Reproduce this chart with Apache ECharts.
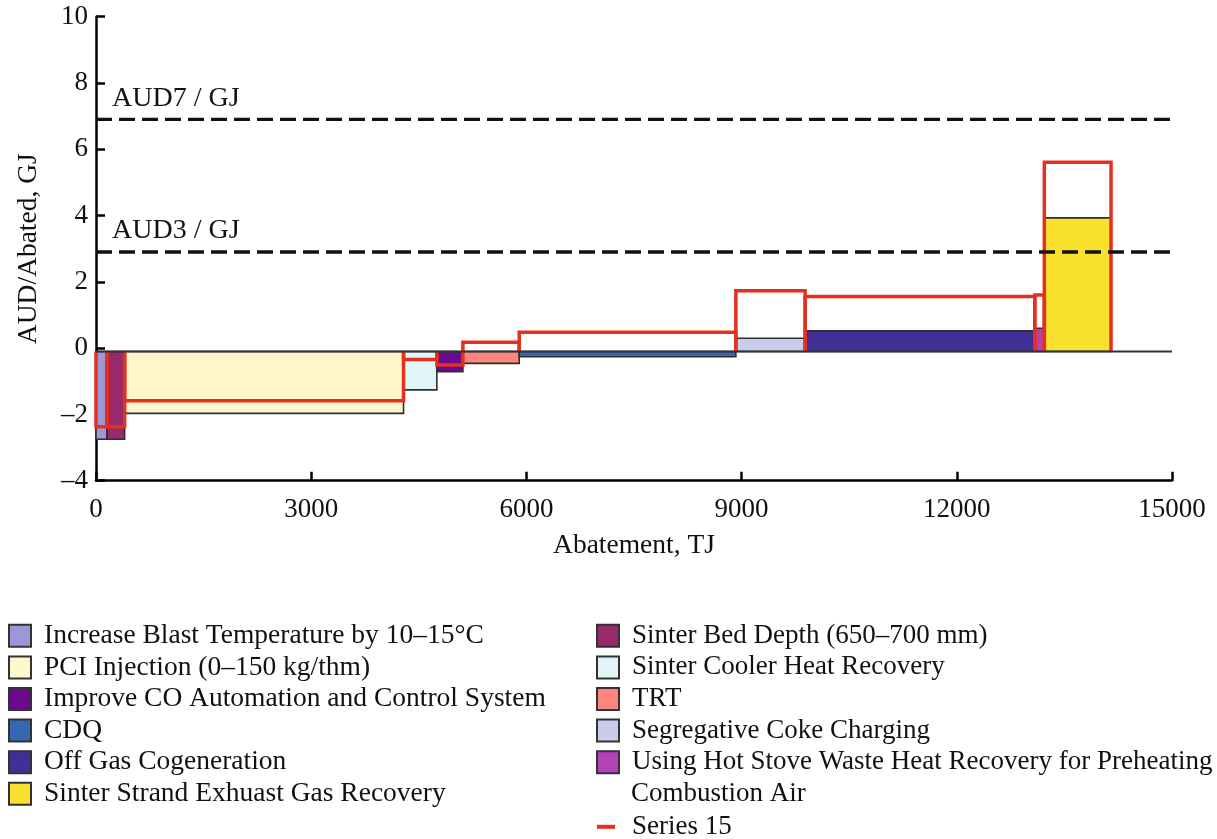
<!DOCTYPE html>
<html>
<head>
<meta charset="utf-8">
<script src="https://cdn.jsdelivr.net/npm/echarts@6/dist/echarts.min.js"></script>
<style>
html,body{margin:0;padding:0;background:#fff;}
#chart{width:1217px;height:839px;}
</style>
</head>
<body>
<div id="chart"></div>
<script>
// ---- data ----
const measures = [
  'Increase Blast Temperature by 10–15°C',
  'Sinter Bed Depth (650–700 mm)',
  'PCI Injection (0–150 kg/thm)',
  'Sinter Cooler Heat Recovery',
  'Improve CO Automation and Control System',
  'TRT',
  'CDQ',
  'Segregative Coke Charging',
  'Off Gas Cogeneration',
  'Using Hot Stove Waste Heat Recovery for Preheating Combustion Air',
  'Sinter Strand Exhuast Gas Recovery'
];
const abatementTJ = [153, 246, 3888, 465, 363, 785, 3020, 966, 3201, 133, 930];
const costPerGJ = [-2.75, -2.75, -1.97, -1.26, -0.71, -0.46, -0.26, 0.30, 0.52, 0.60, 3.93];
const series15Name = 'Series 15';
const series15Cost = [-2.37, -2.37, -1.59, -0.34, -0.51, 0.18, 0.48, 1.73, 1.56, 1.60, 5.61];
const baselineValue = -0.1;
const thresholdValues = [6.9, 2.9];
const thresholdLabels = ['AUD7 / GJ', 'AUD3 / GJ'];
const xTicks = [0, 3000, 6000, 9000, 12000, 15000];
const yTicks = [-4, -2, 0, 2, 4, 6, 8, 10];

// ---- styling ----
const colors = ['#9c98d6', '#962a6c', '#fff6cc', '#e0f5f7', '#6b0a8c', '#ff857f',
                '#3567b2', '#cbcbee', '#412f98', '#b342b5', '#f9e12d'];
const redColor = '#e4301f';
const FONT = '"Liberation Serif", "DejaVu Serif", serif';
const leftLegendOrder = [0, 2, 4, 6, 8, 10];
const rightLegendOrder = [1, 3, 5, 7, 9];

// cumulative x positions
const starts = [], ends = [];
let acc = 0;
abatementTJ.forEach(w => { starts.push(acc); acc += w; ends.push(acc); });

const series = measures.map((name, i) => ({
  name: name,
  type: 'custom',
  z: 2,
  encode: { x: [0, 1], y: 2 },
  data: [[starts[i], ends[i], costPerGJ[i]]],
  itemStyle: { color: colors[i] },
  renderItem: function (params, api) {
    const p0 = api.coord([api.value(0), baselineValue]);
    const p1 = api.coord([api.value(1), api.value(2)]);
    return {
      type: 'rect',
      shape: { x: p0[0], y: Math.min(p0[1], p1[1]), width: p1[0] - p0[0], height: Math.abs(p1[1] - p0[1]) },
      style: { fill: colors[i], stroke: '#2e2e2e', lineWidth: 1.6 }
    };
  }
}));

// Series 15 outline
series.push({
  name: series15Name,
  type: 'custom',
  z: 3,
  encode: { x: [0, 1], y: 2 },
  itemStyle: { color: redColor },
  data: measures.map((m, i) => [starts[i], ends[i], series15Cost[i]]),
  renderItem: function (params, api) {
    const x0 = api.value(0), x1 = api.value(1), v = api.value(2);
    const pts = [[x0, baselineValue], [x0, v], [x1, v], [x1, baselineValue]].map(p => api.coord(p));
    return { type: 'polyline', shape: { points: pts }, style: { fill: null, stroke: redColor, lineWidth: 3.5, lineJoin: 'miter' } };
  }
});

// baseline
series.push({
  name: 'baseline',
  type: 'custom',
  z: 4,
  silent: true,
  data: [[0, 15000, baselineValue]],
  renderItem: function (params, api) {
    const a = api.coord([api.value(0), api.value(2)]);
    const b = api.coord([api.value(1), api.value(2)]);
    return { type: 'line', shape: { x1: a[0], y1: a[1], x2: b[0], y2: b[1] }, style: { stroke: '#333', lineWidth: 2 } };
  }
});

// threshold dashed lines with labels
series.push({
  name: 'thresholds',
  type: 'custom',
  z: 5,
  silent: true,
  data: thresholdValues.map((v, i) => [0, 15000, v, i]),
  renderItem: function (params, api) {
    const a = api.coord([api.value(0), api.value(2)]);
    const b = api.coord([api.value(1), api.value(2)]);
    return {
      type: 'group',
      children: [
        { type: 'line', shape: { x1: a[0], y1: a[1], x2: b[0], y2: b[1] },
          style: { stroke: '#111', lineWidth: 3.3, lineDash: [16, 7] } },
        { type: 'text', x: a[0] + 16, y: a[1] - 21,
          style: { text: thresholdLabels[api.value(3)], font: '28px ' + FONT, fill: '#111', verticalAlign: 'middle', align: 'left' } }
      ]
    };
  }
});

function legendItem(i) {
  return { name: measures[i], icon: 'rect', itemStyle: { color: colors[i], borderColor: '#333', borderWidth: 2 } };
}
const legendTextLeft = { fontFamily: FONT, fontSize: 27.5, color: '#111', lineHeight: 31.6, padding: [0, 0, 0, 8] };
const legendTextRight = { fontFamily: FONT, fontSize: 27, color: '#111', lineHeight: 31.6, padding: [0, 0, 0, 8] };

const option = {
  backgroundColor: '#fff',
  animation: false,
  grid: { left: 96, right: 45, top: 16.7, bottom: 358.3, containLabel: false, outerBoundsMode: 'none' },
  xAxis: {
    type: 'value', min: xTicks[0], max: xTicks[xTicks.length - 1], interval: xTicks[1] - xTicks[0],
    name: 'Abatement, TJ', nameLocation: 'middle', nameGap: 51,
    nameTextStyle: { fontFamily: FONT, fontSize: 27.5, color: '#111' },
    axisLine: { show: true, onZero: false, lineStyle: { color: '#000', width: 2.5 } },
    axisTick: { show: true, inside: true, length: 9, lineStyle: { color: '#000', width: 2.5 } },
    splitLine: { show: false },
    axisLabel: { fontFamily: FONT, fontSize: 27, color: '#111', margin: 16, formatter: v => String(v) }
  },
  yAxis: {
    type: 'value', min: yTicks[0], max: yTicks[yTicks.length - 1], interval: yTicks[1] - yTicks[0],
    name: 'AUD/Abated, GJ', nameLocation: 'middle', nameGap: 53, nameRotate: 90,
    nameTextStyle: { fontFamily: FONT, fontSize: 27.5, color: '#111' },
    axisLine: { show: true, onZero: false, lineStyle: { color: '#000', width: 2.5 } },
    axisTick: { show: true, inside: true, length: 9, lineStyle: { color: '#000', width: 2.5 } },
    splitLine: { show: false },
    axisLabel: { fontFamily: FONT, fontSize: 27, color: '#111', margin: 8,
                 formatter: v => String(v).replace('-', '–') }
  },
  legend: [
    { orient: 'vertical', left: 8, top: 620, padding: 0, itemGap: 0, itemWidth: 22, itemHeight: 22,
      selectedMode: false, textStyle: legendTextLeft, data: leftLegendOrder.map(legendItem) },
    { orient: 'vertical', left: 596, top: 620, padding: 0, itemGap: 0, itemWidth: 22, itemHeight: 22,
      selectedMode: false, textStyle: legendTextRight, data: rightLegendOrder.map(legendItem),
      formatter: n => n.replace(' Combustion Air', '') },
    { orient: 'vertical', left: 597, top: 811, padding: 0, itemGap: 0, itemWidth: 18, itemHeight: 4,
      selectedMode: false, textStyle: { fontFamily: FONT, fontSize: 27, color: '#111', lineHeight: 31.6, padding: [0, 0, 0, 12] },
      data: [{ name: series15Name, icon: 'rect', itemStyle: { color: redColor, borderWidth: 0 } }] }
  ],
  graphic: [
    { type: 'text', left: 631, top: 780, style: { text: 'Combustion Air', font: '27px ' + FONT, fill: '#111' } }
  ],
  series: series
};

const chart = echarts.init(document.getElementById('chart'), null, { renderer: 'canvas' });
chart.setOption(option);
</script>
</body>
</html>
